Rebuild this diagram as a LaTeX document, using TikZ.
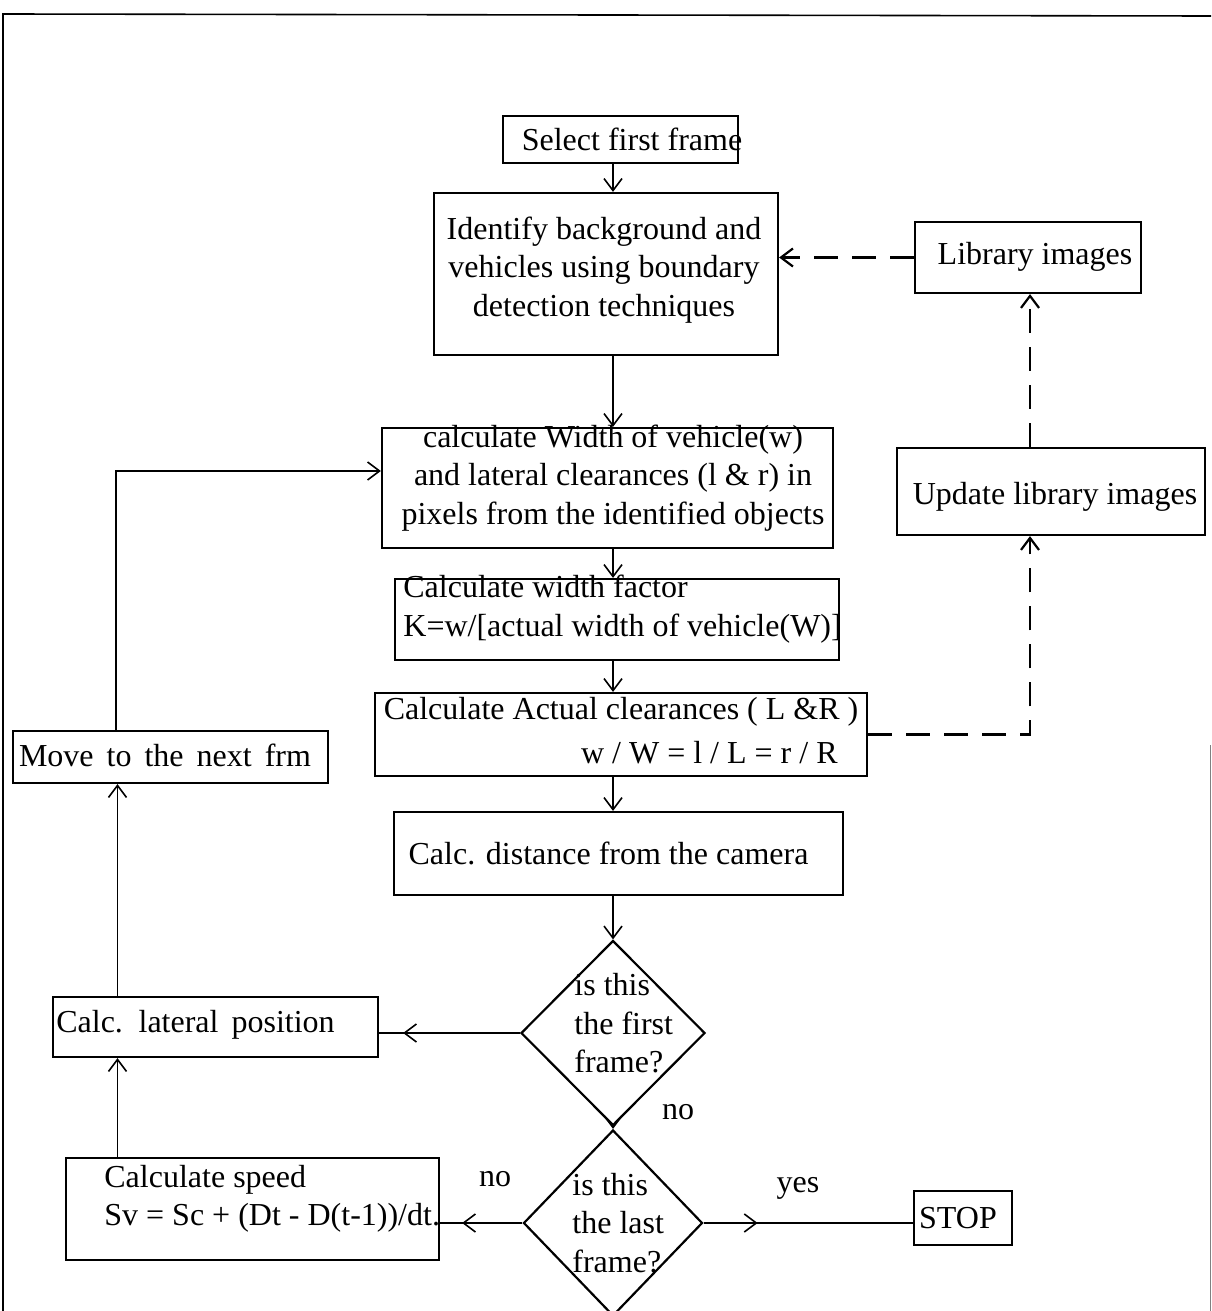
\documentclass[tikz,border=0pt]{standalone}
\usepackage{fontspec}
\setmainfont{Liberation Serif}
\usetikzlibrary{shapes.geometric,arrows.meta,calc}
\begin{document}
\begin{tikzpicture}[x=0.5pt,y=-0.5pt,
  box/.style={draw, line width=1.1pt, inner sep=0pt},
  diam/.style={draw, diamond, line width=1.1pt, inner sep=0pt},
  txt/.style={inner sep=0pt, font=\fontsize{16}{19.2}\selectfont},
  wide/.style={execute at begin node={\spaceskip=6.5pt\relax}},
  arr/.style={-{Straight Barb[length=6pt,width=9pt]}, line width=0.8pt},
  dasharr/.style={arr, dash pattern=on 12pt off 7pt, line width=1.1pt},
  plain/.style={line width=0.8pt}]
\useasboundingbox (0,0) rectangle (1211,1311);
\clip (0,0) rectangle (1211,1311);
% frame
\draw[line width=0.8pt] (3,1311) -- (3,14) -- (1211,16);
\draw[gray, line width=0.5pt] (1210,745) -- (1210,1311);
% boxes
\node[box, minimum width=117.5pt, minimum height=23.5pt] (sel) at (620.5,139.5) {};
\node[box, minimum width=172pt, minimum height=81pt] (ident) at (606,274) {};
\node[box, minimum width=113pt, minimum height=35.5pt] (lib) at (1028,257.5) {};
\node[box, minimum width=225.5pt, minimum height=60pt] (calcw) at (607.5,488) {};
\node[box, minimum width=154pt, minimum height=43.5pt] (upd) at (1051,491.5) {};
\node[box, minimum width=222pt, minimum height=40.5pt] (kfac) at (617,619.5) {};
\node[box, minimum width=246pt, minimum height=41.5pt] (act) at (621,734.5) {};
\node[box, minimum width=224.5pt, minimum height=41.5pt] (dist) at (618.5,853.5) {};
\node[box, minimum width=157.5pt, minimum height=26pt] (move) at (170.5,757) {};
\node[box, minimum width=162.5pt, minimum height=30pt] (lat) at (215.5,1027) {};
\node[box, minimum width=186.5pt, minimum height=51pt] (speed) at (252.5,1209) {};
\node[box, minimum width=49pt, minimum height=27pt] (stop) at (963,1218) {};
\node[diam, minimum width=92pt, minimum height=92.5pt] (d1) at (613,1033) {};
\node[diam, minimum width=89.5pt, minimum height=93pt] (d2) at (613,1223) {};
% texts
\node[txt] (tsel) at (632,139) {Select first frame};
\node[txt, align=center] (tident) at (604,270) {Identify background and\\vehicles using boundary\\detection techniques};
\node[txt] (tlib) at (1035,257) {Library images};
\node[txt, align=center] (tcalcw) at (613,478) {calculate Width of vehicle(w)\\and lateral clearances (l \& r) in\\pixels from the identified objects};
\node[txt] (tupd) at (1055,497) {Update library images};
\node[txt, align=left, anchor=west] (tkfac) at (403,609) {Calculate width factor\\K=w/[actual width of vehicle(W)]};
\node[txt] (tact1) at (621,712) {Calculate Actual clearances ( L \&R )};
\node[txt, anchor=east] (tact2) at (838,753) {w / W = l / L = r / R};
\node[txt] (tdist) at (608.5,853) {Calc. distance from the camera};
\node[txt, wide] (tmove) at (165,755) {Move to the next frm};
\node[txt, wide] (tlat) at (195.5,1025) {Calc. lateral position};
\node[txt, align=left, anchor=west] (tspeed) at (104,1199) {Calculate speed\\Sv = Sc + (Dt - D(t-1))/dt.};
\node[txt] (tstop) at (958,1218) {STOP};
\node[txt, align=left, anchor=west] (td1) at (574,1023.5) {is this\\the first\\frame?};
\node[txt, align=left, anchor=west] (td2) at (572,1223) {is this\\the last\\frame?};
\node[txt] (no1) at (678,1112) {no};
\node[txt] (no2) at (495,1179) {no};
\node[txt] (yes) at (798,1188) {yes};
% main column connectors
\coordinate (axis) at (613,0);
\draw[arr] (sel.south -| axis) -- (ident.north -| axis);
\draw[arr] (ident.south -| axis) -- (calcw.north -| axis);
\draw[arr] (calcw.south -| axis) -- (kfac.north -| axis);
\draw[arr] (kfac.south -| axis) -- (act.north -| axis);
\draw[arr] (act.south -| axis) -- (dist.north -| axis);
\draw[arr] (dist.south -| axis) -- (d1.north);
\draw[arr] (d1.south) -- (d2.north);
% decisions
\coordinate (p1) at (d1.west -| lat.east);
\draw[plain] (d1.west) -- (p1);
\draw[arr] (d1.west) -- ([xshift=12pt]p1);
\coordinate (p2) at (d2.west -| speed.east);
\draw[plain] (d2.west) -- (p2);
\draw[arr] (d2.west) -- ([xshift=11pt]p2);
\draw[plain] (d2.east) -- (d2.east -| stop.west);
\draw[arr] (d2.east) -- ([xshift=27pt]d2.east);
% loop on the left
\coordinate (p3) at ([xshift=-27.25pt]move.north);
\coordinate (p4) at ([yshift=8.5pt]calcw.west);
\draw[arr] (p3) |- (p4);
\coordinate (p5) at ([xshift=-49pt]lat.north);
\draw[arr] (p5) -- (p5 |- move.south);
\coordinate (p6) at ([xshift=-67.5pt]speed.north);
\draw[arr] (p6) -- (p6 |- lat.south);
% library (dashed)
\draw[dasharr] (lib.west) -- (lib.west -| ident.east);
\coordinate (p7) at ([xshift=-10.5pt]upd.south);
\draw[dasharr] (act.east) -| (p7);
\draw[dasharr] (p7 |- upd.north) -- (p7 |- lib.south);
\end{tikzpicture}
\end{document}
